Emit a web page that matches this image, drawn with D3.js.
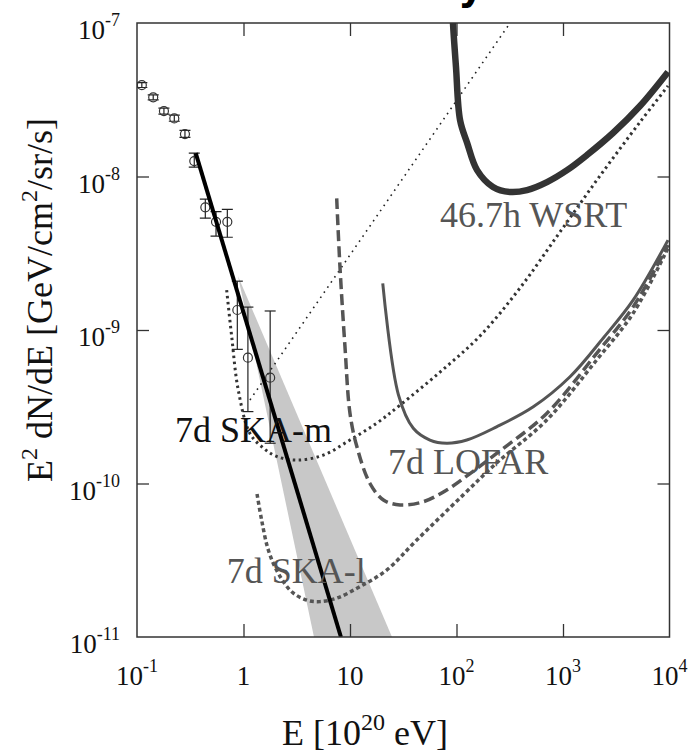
<!DOCTYPE html>
<html><head><meta charset="utf-8">
<script src="https://cdn.jsdelivr.net/npm/d3@7"></script>
<style>html,body{margin:0;padding:0;background:#fff;}svg{display:block;}</style>
</head><body>
<script>
// ---- data (E in 1e20 eV, F = E^2 dN/dE in GeV/cm^2/sr/s) ----
const xTicks = [0.1, 1, 10, 100, 1000, 10000];
const xTickExp = ["-1", null, null, "2", "3", "4"];
const xTickBase = ["10", "1", "10", "10", "10", "10"];
const yTicks = [1e-7, 1e-8, 1e-9, 1e-10, 1e-11];
const yTickExp = ["-7", "-8", "-9", "-10", "-11"];

const dataE  = [0.111, 0.142, 0.179, 0.224, 0.282, 0.345, 0.438, 0.552, 0.705, 0.875, 1.10, 1.78];
const dataF  = [3.94e-8, 3.28e-8, 2.67e-8, 2.39e-8, 1.89e-8, 1.26e-8, 6.3e-9, 5.07e-9, 5.07e-9, 1.35e-9, 6.6e-10, 4.89e-10];
const dataHi = [4.09e-8, 3.40e-8, 2.79e-8, 2.51e-8, 2.00e-8, 1.42e-8, 7.13e-9, 5.90e-9, 6.11e-9, 2.08e-9, 1.41e-9, 1.33e-9];
const dataLo = [3.80e-8, 3.16e-8, 2.55e-8, 2.29e-8, 1.80e-8, 1.15e-8, 5.35e-9, 4.09e-9, 4.02e-9, 7.48e-10, 2.94e-10, 1.83e-10];

const fitE = [0.356, 8.22];
const fitF = [1.42e-8, 1e-11];

const bandE = [0.887, 4.59, 24.8];
const bandF = [2.25e-9, 1e-11, 1e-11];

const wsrtE = [91.5, 92.7, 98.9, 108, 126, 156, 220, 318, 459, 708, 1092, 1680, 2946, 5280, 9680];
const wsrtF = [1.3e-7, 1e-7, 5.17e-8, 2.33e-8, 1.65e-8, 1.10e-8, 8.55e-9, 7.93e-9, 8.16e-9, 9.2e-9, 1.10e-8, 1.38e-8, 1.92e-8, 2.88e-8, 4.80e-8];

const lofarE = [20.3, 28.5, 39.3, 56.3, 80.9, 125, 238, 526, 1164, 2390, 4570, 9680];
const lofarF = [2.01e-9, 3.78e-10, 2.29e-10, 1.92e-10, 1.83e-10, 1.92e-10, 2.34e-10, 3.16e-10, 4.96e-10, 8.87e-10, 1.57e-9, 3.85e-9];

const lofarDE = [7.50, 8.05, 8.97, 10.0, 11.6, 15.4, 20.6, 29.5, 48.8, 80.9, 134, 238, 703, 2070, 4570, 9680];
const lofarDF = [7.21e-9, 2.58e-9, 7.78e-10, 2.86e-10, 1.74e-10, 1.00e-10, 7.81e-11, 7.25e-11, 7.61e-11, 9.07e-11, 1.16e-10, 1.57e-10, 2.86e-10, 7.05e-10, 1.42e-9, 3.58e-9];

const skalE = [1.34, 1.48, 1.71, 2.12, 2.84, 3.92, 5.22, 7.50, 12.4, 22.1, 42.3, 115, 238, 703, 2070, 4570, 9680];
const skalF = [8.55e-11, 5.78e-11, 3.69e-11, 2.60e-11, 1.97e-11, 1.74e-11, 1.70e-11, 1.79e-11, 2.13e-11, 2.73e-11, 4.28e-11, 8.4e-11, 1.36e-10, 2.59e-10, 6.38e-10, 1.29e-9, 3.42e-9];

const skamE = [0.695, 0.775, 0.893, 1.15, 1.54, 2.05, 3.16, 5.61, 10.0, 17.8, 29.5, 70.0, 166, 395, 937, 2225, 5280, 9680];
const skamF = [1.82e-9, 9.04e-10, 4.06e-10, 2.12e-10, 1.70e-10, 1.50e-10, 1.42e-10, 1.53e-10, 1.92e-10, 2.47e-10, 3.24e-10, 5.32e-10, 9.14e-10, 1.88e-9, 4.35e-9, 1.01e-8, 2.26e-8, 3.89e-8];

const fineE = [1.15, 318];
const fineF = [3.50e-10, 1e-7];

const labels = [
  {text: "46.7h WSRT", E: 70.0, F: 4.71e-9, color: "#555"},
  {text: "7d LOFAR", E: 22.7, F: 1.16e-10, color: "#555"},
  {text: "7d SKA-m", E: 0.2275, F: 1.85e-10, color: "#111"},
  {text: "7d SKA-l", E: 0.695, F: 2.24e-11, color: "#555"}
];

// ---- layout ----
const W = 690, H = 754;
const L = 137, R = 669.5, T = 23, B = 637;
const svg = d3.select("body").append("svg").attr("width", W).attr("height", H)
  .style("font-family", "'Liberation Serif','Times New Roman',serif");

const x = d3.scaleLog().domain([0.1, 1e4]).range([L, R]);
const y = d3.scaleLog().domain([1e-11, 1e-7]).range([B, T]);

svg.append("clipPath").attr("id", "clip").append("rect")
  .attr("x", L).attr("y", T).attr("width", R - L).attr("height", B - T);

// cut-off title at very top
svg.append("text").attr("x", 484).attr("y", -1).attr("text-anchor", "end")
  .style("font-family", "'DejaVu Sans',sans-serif").style("font-weight", "bold")
  .style("font-size", "40px").attr("fill", "#000").text("Sensitivity");

const g = svg.append("g").attr("clip-path", "url(#clip)");
const zip = (a, b) => a.map((v, i) => [v, b[i]]);
const line = d3.line().x(d => x(d[0])).y(d => y(d[1]));
const smooth = d3.line().x(d => x(d[0])).y(d => y(d[1])).curve(d3.curveCatmullRom.alpha(0.5));

// band
g.append("path").attr("d", line(zip(bandE, bandF)) + "Z")
  .attr("fill", "#c8c8c8").attr("stroke", "none");

// fine dotted line
g.append("path").attr("d", line(zip(fineE, fineF)))
  .attr("fill", "none").attr("stroke", "#222").attr("stroke-width", 1.6)
  .attr("stroke-dasharray", "1.6,4.6");

// SKA-m coarse dotted
g.append("path").attr("d", smooth(zip(skamE, skamF)))
  .attr("fill", "none").attr("stroke", "#333").attr("stroke-width", 3)
  .attr("stroke-dasharray", "2.5,3.5");

// SKA-l
g.append("path").attr("d", smooth(zip(skalE, skalF)))
  .attr("fill", "none").attr("stroke", "#555").attr("stroke-width", 3.5)
  .attr("stroke-dasharray", "4,3");

// LOFAR dashed
g.append("path").attr("d", smooth(zip(lofarDE, lofarDF)))
  .attr("fill", "none").attr("stroke", "#555").attr("stroke-width", 3.5)
  .attr("stroke-dasharray", "11,5");

// LOFAR solid
g.append("path").attr("d", smooth(zip(lofarE, lofarF)))
  .attr("fill", "none").attr("stroke", "#555").attr("stroke-width", 3);

// WSRT
g.append("path").attr("d", smooth(zip(wsrtE, wsrtF)))
  .attr("fill", "none").attr("stroke", "#333").attr("stroke-width", 6.5);

// data points with error bars
const pts = g.append("g");
dataE.forEach((e, i) => {
  const cx = x(e);
  pts.append("line").attr("x1", cx).attr("x2", cx).attr("y1", y(dataHi[i])).attr("y2", y(dataLo[i]))
    .attr("stroke", "#222").attr("stroke-width", 1.2);
  [dataHi[i], dataLo[i]].forEach(v => {
    pts.append("line").attr("x1", cx - 5.5).attr("x2", cx + 5.5).attr("y1", y(v)).attr("y2", y(v))
      .attr("stroke", "#222").attr("stroke-width", 1.2);
  });
  pts.append("circle").attr("cx", cx).attr("cy", y(dataF[i])).attr("r", 4.5)
    .attr("fill", "none").attr("stroke", "#333").attr("stroke-width", 1.2);
});

// fit line
g.append("path").attr("d", line(zip(fitE, fitF)))
  .attr("fill", "none").attr("stroke", "#000").attr("stroke-width", 4);

// labels
labels.forEach(l => {
  svg.append("text").attr("x", x(l.E)).attr("y", y(l.F))
    .style("font-size", "36px").attr("fill", l.color).text(l.text);
});

// frame and ticks (inward, all sides)
const tickX = [1, 10, 100, 1000];
const tickY = [1e-8, 1e-9, 1e-10];
const axB = d3.axisBottom(x).tickValues(tickX).tickSize(-13).tickFormat("");
const axT = d3.axisTop(x).tickValues(tickX).tickSize(-13).tickFormat("");
const axL = d3.axisLeft(y).tickValues(tickY).tickSize(-12).tickFormat("");
const axR = d3.axisRight(y).tickValues(tickY).tickSize(-12).tickFormat("");
[[axB, `translate(0,${B})`], [axT, `translate(0,${T})`], [axL, `translate(${L},0)`], [axR, `translate(${R},0)`]]
  .forEach(([ax, tr]) => {
    const a = svg.append("g").attr("transform", tr).call(ax);
    a.select(".domain").remove();
    a.selectAll("line").attr("stroke", "#333").attr("stroke-width", 1.3);
  });
svg.append("rect").attr("x", L).attr("y", T).attr("width", R - L).attr("height", B - T)
  .attr("fill", "none").attr("stroke", "#333").attr("stroke-width", 1.5);

// x tick labels
xTicks.forEach((v, i) => {
  const t = svg.append("text").attr("x", x(v)).attr("y", 685).attr("text-anchor", "middle")
    .style("font-size", "27px").attr("fill", "#111");
  t.append("tspan").text(xTickBase[i]);
  if (xTickExp[i]) t.append("tspan").attr("dy", -13).style("font-size", "18px").text(xTickExp[i]);
});
// y tick labels
yTicks.forEach((v, i) => {
  const t = svg.append("text").attr("x", 120).attr("y", y(v) + 16).attr("text-anchor", "end")
    .style("font-size", "27px").attr("fill", "#111");
  t.append("tspan").text("10");
  t.append("tspan").attr("dy", -13).style("font-size", "18px").text(yTickExp[i]);
});

// axis titles
const xt = svg.append("text").attr("x", 365).attr("y", 745).attr("text-anchor", "middle")
  .style("font-size", "36px").attr("fill", "#111");
xt.append("tspan").text("E [10");
xt.append("tspan").attr("dy", -15).style("font-size", "24px").text("20");
xt.append("tspan").attr("dy", 15).text(" eV]");

const yt = svg.append("text").attr("transform", "translate(52,482) rotate(-90)")
  .attr("text-anchor", "start").style("font-size", "36px").attr("fill", "#111");
yt.append("tspan").text("E");
yt.append("tspan").attr("dy", -15).style("font-size", "24px").text("2");
yt.append("tspan").attr("dy", 15).text(" dN/dE [GeV/cm");
yt.append("tspan").attr("dy", -15).style("font-size", "24px").text("2");
yt.append("tspan").attr("dy", 15).text("/sr/s]");
</script>
</body></html>
